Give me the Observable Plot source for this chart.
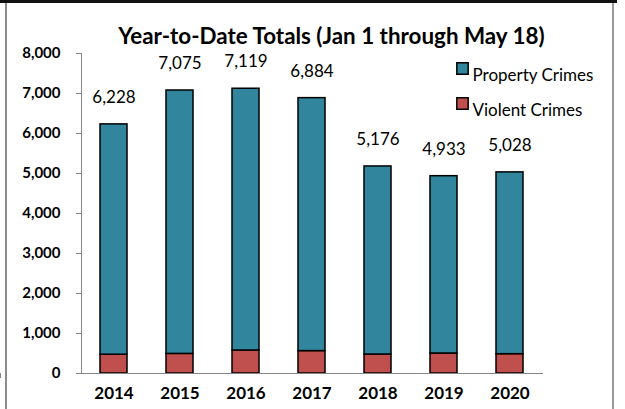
<!DOCTYPE html>
<html><head><meta charset="utf-8">
<script src="https://cdn.jsdelivr.net/npm/d3@7"></script>
<script src="https://cdn.jsdelivr.net/npm/@observablehq/plot@0.6"></script>
<style>
body{margin:0;background:#fff;}
#wrap{position:relative;width:625px;height:409px;overflow:hidden;font-family:Lato,sans-serif;background:#fff;}
#wrap svg{display:block;}
</style></head><body><div id="wrap"></div>
<script>
const years = ["2014", "2015", "2016", "2017", "2018", "2019", "2020"];
const totals = [6228, 7075, 7119, 6884, 5176, 4933, 5028];
const violentCrimes = [470, 490, 575, 560, 475, 500, 483];
const propertyCrimes = [5758, 6585, 6544, 6324, 4701, 4433, 4545];
const seriesNames = ["Property Crimes", "Violent Crimes"];
const seriesColors = ["#31859C", "#C0504D"];
const yTicks = [0, 1000, 2000, 3000, 4000, 5000, 6000, 7000, 8000];
const title = "Year-to-Date Totals (Jan 1 through May 18)";

const rows = [];
years.forEach((yr, i) => {
  rows.push({year: yr, series: "Violent Crimes", value: violentCrimes[i]});
  rows.push({year: yr, series: "Property Crimes", value: propertyCrimes[i]});
});
const totalRows = years.map((yr, i) => ({year: yr, total: totals[i]}));
const fmt = d3.format(",");

function axisLines(index, scales, values, dims) {
  const x = scales.x, y = scales.y;
  const bw = x.bandwidth || 0;
  const step = x(years[1]) - x(years[0]);
  const left = dims.marginLeft, right = dims.width - dims.marginRight;
  const y0 = y(0), yTop = y(yTicks[yTicks.length - 1]);
  const g = d3.create("svg:g").attr("fill", "none");
  const ax = g.append("g").attr("stroke", "#868686").attr("stroke-width", 1);
  ax.append("line").attr("x1", left + 0.5).attr("x2", left + 0.5).attr("y1", yTop).attr("y2", y0);
  ax.append("line").attr("x1", left - 5).attr("x2", right).attr("y1", y0 + 0.5).attr("y2", y0 + 0.5);
  for (const t of yTicks) {
    const ty = Math.round(y(t)) + 0.5;
    ax.append("line").attr("x1", left - 5).attr("x2", left).attr("y1", ty).attr("y2", ty);
  }
  for (let i = 0; i <= years.length; i++) {
    const bx = Math.round(x(years[0]) + bw / 2 - step / 2 + i * step) + 0.5;
    ax.append("line").attr("x1", bx).attr("x2", bx).attr("y1", y0).attr("y2", y0 + 5);
  }
  // outer chart-area border (decoration)
  const fr = g.append("g");
  fr.append("rect").attr("x", 5).attr("y", 2).attr("width", 2).attr("height", dims.height).attr("fill", "#8c8c8c");
  fr.append("rect").attr("x", 612).attr("y", 2).attr("width", 2).attr("height", dims.height).attr("fill", "#9a9a9a");
  fr.append("rect").attr("x", 0).attr("y", 0).attr("width", 617).attr("height", 3).attr("fill", "#111");
  return g.node();
}

const legendMarks = [];
seriesNames.forEach((s, i) => {
  legendMarks.push(Plot.dot([s], {frameAnchor: "top-right", dx: -81, dy: 15 + 35 * i, symbol: "square", r: 6.4, fill: seriesColors[i], stroke: "#000", strokeWidth: 1.5}));
  legendMarks.push(Plot.text([s], {frameAnchor: "top-right", dx: -71, dy: 15 + 35 * i, textAnchor: "start", text: d => d, fontSize: 17, fill: "#000"}));
});

const chart = Plot.plot({
  width: 625,
  height: 409,
  marginLeft: 81,
  marginRight: 82,
  marginTop: 53,
  marginBottom: 36,
  style: {fontFamily: "Lato, sans-serif", fontSize: "14px", background: "#fff", color: "#000"},
  x: {domain: years, paddingInner: 0.59, paddingOuter: 0.295, label: null, axis: null},
  y: {domain: [0, 8000], label: null, axis: null},
  color: {domain: seriesNames, range: seriesColors},
  marks: [
    Plot.barY(rows, {x: "year", y: "value", fill: "series", stroke: "#000", strokeWidth: 1.5}),
    axisLines,
    Plot.text(yTicks, {y: d => d, frameAnchor: "left", dx: -21, textAnchor: "end", text: d => fmt(d), fontSize: 15, fontWeight: "bold", fill: "#000"}),
    Plot.text(years, {x: d => d, frameAnchor: "bottom", dy: 25, text: d => d, fontSize: 17, fontWeight: "bold", fill: "#000"}),
    Plot.text(totalRows, {x: "year", y: "total", text: d => fmt(d.total), dy: -27, fontSize: 17, fill: "#000"}),
    Plot.text([title], {frameAnchor: "top", dx: 19, dy: -25, fontSize: 22.4, fontWeight: "bold", fill: "#000"}),
    ...legendMarks
  ]
});
document.getElementById("wrap").appendChild(chart);
</script></body></html>
